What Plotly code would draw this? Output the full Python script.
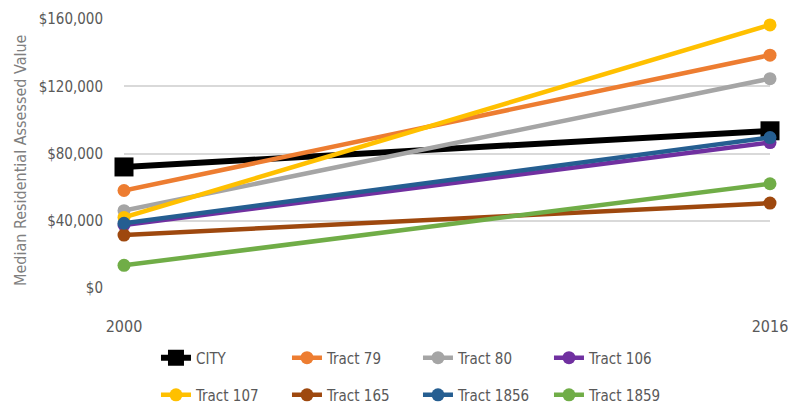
import plotly.graph_objects as go

years = [2000, 2016]
series_names = ["CITY", "Tract 79", "Tract 80", "Tract 106",
                "Tract 107", "Tract 165", "Tract 1856", "Tract 1859"]
city = [72000, 93500]
tract_79 = [58000, 138500]
tract_80 = [46000, 124500]
tract_106 = [37500, 86500]
tract_107 = [42000, 156500]
tract_165 = [31500, 50500]
tract_1856 = [38500, 89500]
tract_1859 = [13500, 62000]
colors = ["#000000", "#ED7D31", "#A5A5A5", "#7030A0",
          "#FFC000", "#9E480E", "#255E91", "#70AD47"]
y_ticks = [0, 40000, 80000, 120000, 160000]
y_tick_text = ["$0", "$40,000", "$80,000", "$120,000", "$160,000"]
y_title = "Median Residential Assessed Value"

values = [city, tract_79, tract_80, tract_106,
          tract_107, tract_165, tract_1856, tract_1859]

FONT = "DejaVu Sans Condensed, Liberation Sans Narrow, Arial Narrow, sans-serif"
TEXT_COLOR = "#595959"

fig = go.Figure()
for i, (name, vals, col) in enumerate(zip(series_names, values, colors)):
    is_city = name == "CITY"
    fig.add_trace(go.Scatter(
        x=years, y=vals, name=name, mode="lines+markers",
        line=dict(color=col, width=6 if is_city else 4.5),
        marker=dict(symbol="square" if is_city else "circle",
                    size=19 if is_city else 13, color=col),
        cliponaxis=False,
        legend="legend" if i < 4 else "legend2",
    ))

# two legend rows, four fixed-width columns each
legend_common = dict(
    orientation="h", xanchor="left", yanchor="middle",
    font=dict(family=FONT, size=15, color=TEXT_COLOR),
    entrywidth=86, bgcolor="rgba(0,0,0,0)", traceorder="normal",
)

fig.update_layout(
    width=788, height=409,
    margin=dict(l=124, r=18, t=19, b=121, autoexpand=False),
    paper_bgcolor="white", plot_bgcolor="white",
    font=dict(family=FONT, color=TEXT_COLOR),
    showlegend=True,
    legend=dict(x=0.0495, y=-0.26, **legend_common),
    legend2=dict(x=0.0495, y=-0.398, **legend_common),
    xaxis=dict(
        range=[2000, 2016], tickvals=years, ticktext=[str(y) for y in years],
        showgrid=False, zeroline=False, showline=False,
        tickfont=dict(family=FONT, size=16, color=TEXT_COLOR),
        ticks="", ticklabelstandoff=27, ticklabeloverflow="allow",
    ),
    yaxis=dict(
        range=[0, 160000], tickvals=y_ticks, ticktext=y_tick_text,
        showgrid=True, gridcolor="#D9D9D9", gridwidth=1.5,
        zeroline=False, showline=False,
        tickfont=dict(family=FONT, size=15, color=TEXT_COLOR),
        ticks="", ticklabelstandoff=20,
    ),
    annotations=[dict(
        text=y_title, textangle=-90, showarrow=False,
        xref="paper", yref="paper", x=-0.1594, y=0.476,
        xanchor="center", yanchor="middle",
        font=dict(family=FONT, size=16, color="#7F7F7F"),
    )],
)

fig.write_html("out.html")
